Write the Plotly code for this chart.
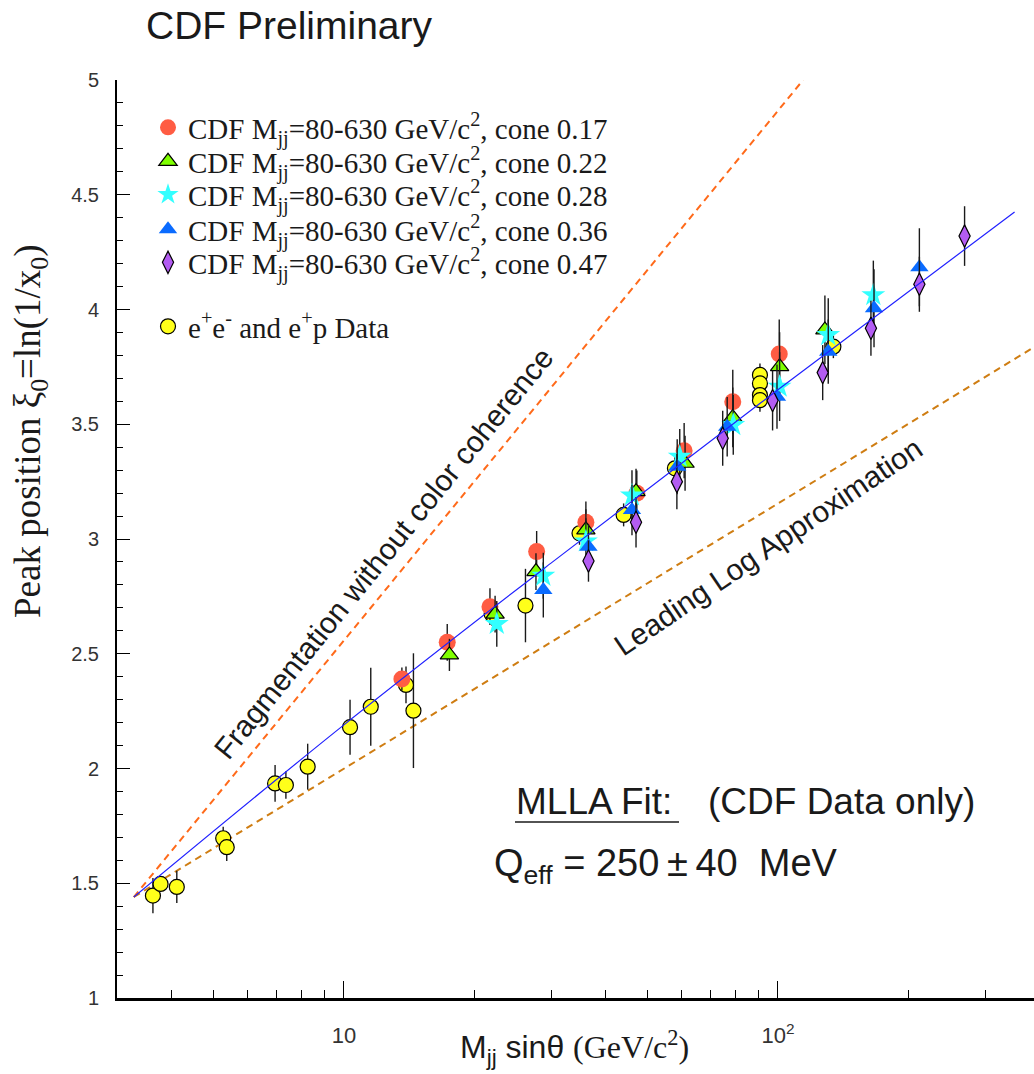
import plotly.graph_objects as go

# ---------------- data ----------------
red_x = [13.6, 17.3, 21.7, 27.8, 36.1, 47.3, 60.8, 78.7, 100.7]
red_y = [2.39, 2.55, 2.705, 2.945, 3.073, 3.199, 3.385, 3.598, 3.806]
red_e = [0.05, 0.08, 0.08, 0.09, 0.09, 0.10, 0.12, 0.14, 0.15]

green_x = [17.5, 22.3, 27.7, 36.1, 47.1, 61.1, 78.7, 100.9, 128.3]
green_y = [2.495, 2.673, 2.858, 3.04, 3.206, 3.33, 3.53, 3.751, 3.911]
green_e = [0.07, 0.08, 0.08, 0.09, 0.10, 0.12, 0.13, 0.15, 0.15]

cyan_x = [22.5, 28.8, 36.1, 46.1, 59.4, 78.9, 100.9, 130.6, 165.9]
cyan_y = [2.63, 2.84, 2.99, 3.19, 3.359, 3.497, 3.664, 3.889, 4.063]
cyan_e = [0.10, 0.10, 0.10, 0.11, 0.12, 0.13, 0.15, 0.16, 0.15]

blue_x = [28.8, 36.6, 46.1, 58.6, 76.4, 99.5, 130.6, 166.5, 211.8]
blue_y = [2.778, 2.966, 3.126, 3.315, 3.489, 3.62, 3.816, 4.005, 4.184]
blue_e = [0.12, 0.10, 0.11, 0.12, 0.13, 0.14, 0.14, 0.17, 0.17]

purple_x = [36.6, 47.1, 58.5, 74.6, 97.2, 126.8, 163.8, 211.8, 269.2]
purple_y = [2.904, 3.073, 3.25, 3.439, 3.603, 3.725, 3.918, 4.11, 4.32]
purple_e = [0.09, 0.11, 0.12, 0.12, 0.13, 0.12, 0.12, 0.12, 0.13]

ee_x = [3.63, 3.78, 4.12, 5.27, 5.37, 6.94, 7.35, 8.25, 10.33, 11.53, 13.9, 14.46,
        21.9, 26.2, 34.9, 44.1, 57.9, 90.9, 90.9, 90.9, 90.9, 134.2]
ee_y = [1.446, 1.497, 1.484, 1.696, 1.657, 1.935, 1.928, 2.008, 2.18, 2.269, 2.364, 2.252,
        2.673, 2.71, 3.025, 3.105, 3.308, 3.715, 3.678, 3.627, 3.605, 3.838]
ee_e = [0.077, 0.03, 0.07, 0.05, 0.06, 0.08, 0.06, 0.10, 0.12, 0.17, 0.08, 0.25,
        0.05, 0.16, 0.05, 0.05, 0.05, 0.05, 0.05, 0.05, 0.05, 0.05]

fit_x = [3.28, 10.0, 30.0, 100.0, 351.0]
fit_y = [1.44, 2.19, 2.895, 3.65, 4.425]

frag_x = [3.28, 114.3]
frag_y = [1.44, 5.0]

lla_x = [3.28, 389.0]
lla_y = [1.44, 3.836]

x_tickvals = [10, 100]
x_ticktext = ["10", "10<sup>2</sup>"]
x_minorvals = [4, 5, 6, 7, 8, 9, 20, 30, 40, 50, 60, 70, 80, 90, 200, 300]

cone_labels = ["0.17", "0.22", "0.28", "0.36", "0.47"]

# ---------------- figure ----------------
SERIF = "Liberation Serif, Times New Roman, serif"
SANS = "Liberation Sans, Arial, Helvetica, sans-serif"

L, R, T, B = 117, 0, 80, 76
W, H = 1034, 1074
PW, PH = W - L - R, H - T - B


def px(x):
    return (x - L) / PW


def py(y):
    return (H - B - y) / PH


fig = go.Figure()

err_style = dict(type="data", thickness=1.4, width=0, color="#1a1a1a")

# reference lines
fig.add_trace(go.Scatter(x=frag_x, y=frag_y, mode="lines", showlegend=False,
                         line=dict(color="#ff6a1a", width=2, dash="7px,5px"),
                         hoverinfo="skip"))
fig.add_trace(go.Scatter(x=lla_x, y=lla_y, mode="lines", showlegend=False,
                         line=dict(color="#cf7d12", width=2, dash="7px,5px"),
                         hoverinfo="skip"))

# e+e- data (drawn first, underneath)
fig.add_trace(go.Scatter(
    x=ee_x, y=ee_y, mode="markers", legend="legend6",
    name="e<sup>+</sup>e<sup>-</sup> and e<sup>+</sup>p Data",
    error_y=dict(array=ee_e, **err_style),
    marker=dict(symbol="circle", size=15, color="#ffff1a",
                line=dict(color="#000000", width=1.2)),
))


def lab(c):
    return "CDF M<sub>jj</sub>=80-630 GeV/c<sup>2</sup>, cone " + c


series = [
    (red_x, red_y, red_e, dict(symbol="circle", size=17, color="#ff5c43", line=dict(width=0))),
    (green_x, green_y, green_e, dict(symbol="triangle-up", size=16, color="#7fff00",
                                     line=dict(color="#000000", width=1.2))),
    (cyan_x, cyan_y, cyan_e, dict(symbol="star", size=18, color="#33ffff", line=dict(width=0))),
    (blue_x, blue_y, blue_e, dict(symbol="triangle-up", size=16, color="#0a6bff", line=dict(width=0))),
    (purple_x, purple_y, purple_e, dict(symbol="diamond-tall", size=16, color="#b35cf2",
                                        line=dict(color="#000000", width=1.2))),
]
legend_names = ["legend", "legend2", "legend3", "legend4", "legend5"]
for i, (xs, ys, es, mk) in enumerate(series):
    fig.add_trace(go.Scatter(x=xs, y=ys, mode="markers", name=lab(cone_labels[i]),
                             legend=legend_names[i],
                             error_y=dict(array=es, **err_style), marker=mk))

# MLLA fit line on top
fig.add_trace(go.Scatter(x=fit_x, y=fit_y, mode="lines", showlegend=False,
                         line=dict(color="#2020ff", width=1.2, shape="spline"),
                         hoverinfo="skip"))

annotations = [
    dict(text="CDF Preliminary", x=px(144), y=py(26), xanchor="left", yanchor="middle",
         font=dict(family=SANS, size=39, color="#1a1a1a")),
    dict(text="Fragmentation without color coherence", x=px(383), y=py(553),
         xanchor="center", yanchor="middle", textangle=-51,
         font=dict(family=SANS, size=30, color="#1a1a1a")),
    dict(text="Leading Log Approximation", x=px(768), y=py(546),
         xanchor="center", yanchor="middle", textangle=-34,
         font=dict(family=SANS, size=30, color="#1a1a1a")),
    dict(text="MLLA Fit:", x=px(514), y=py(801), xanchor="left", yanchor="middle",
         font=dict(family=SANS, size=37, color="#1a1a1a")),
    dict(text="(CDF Data only)", x=px(706), y=py(801), xanchor="left", yanchor="middle",
         font=dict(family=SANS, size=37, color="#1a1a1a")),
    dict(text="Q<sub>eff</sub> = 250\u2009\u00b1\u200940\u00a0\u00a0MeV", x=px(492), y=py(866),
         xanchor="left", yanchor="middle",
         font=dict(family=SANS, size=38, color="#1a1a1a")),
    dict(text="Peak position \u03be<sub>0</sub>=ln(1/x<sub>0</sub>)", x=px(30), y=py(431),
         xanchor="center", yanchor="middle", textangle=-90,
         font=dict(family=SERIF, size=37, color="#1a1a1a")),
    dict(text="M<sub>jj</sub> sin\u03b8 <span style=\"font-family:'Liberation Serif'\">(GeV/c<sup>2</sup>)</span>",
         x=px(574), y=py(1047), xanchor="center", yanchor="middle",
         font=dict(family=SANS, size=32, color="#1a1a1a")),
]
for a in annotations:
    a.update(xref="paper", yref="paper", showarrow=False)

row_centers = [127, 161, 194, 229, 262, 326]
legend_cfg = {}
for i, yc in enumerate(row_centers):
    key = "legend" if i == 0 else "legend%d" % (i + 1)
    legend_cfg[key] = dict(x=px(148), y=py(yc - 25), xanchor="left", yanchor="top",
                           bgcolor="rgba(0,0,0,0)", borderwidth=0,
                           font=dict(family=SERIF, size=29, color="#1a1a1a"))

fig.update_layout(
    width=W, height=H,
    margin=dict(l=L, r=R, t=T, b=B),
    paper_bgcolor="white", plot_bgcolor="white",
    showlegend=True,
    annotations=annotations,
    shapes=[dict(type="line", xref="paper", yref="paper", x0=px(515), x1=px(679),
                 y0=py(822), y1=py(822), line=dict(color="#1a1a1a", width=1.5))],
    **legend_cfg,
)

fig.update_xaxes(
    type="log", range=[0.47712, 0.47712 + PW / 434.0],
    showline=True, linecolor="black", linewidth=2.5, mirror=False,
    showgrid=False, zeroline=False,
    tickvals=x_tickvals, ticktext=x_ticktext,
    ticks="inside", ticklen=17, tickwidth=1.2, tickcolor="black",
    ticklabelstandoff=16,
    tickfont=dict(family=SANS, size=22, color="#333333"),
    minor=dict(tickvals=x_minorvals, ticks="inside", ticklen=8, tickwidth=1, tickcolor="black"),
)
fig.update_yaxes(
    range=[1, 5], showline=True, linecolor="black", linewidth=2, mirror=False,
    showgrid=False, zeroline=False,
    tick0=1, dtick=0.5,
    ticks="inside", ticklen=13, tickwidth=1.2, tickcolor="black",
    ticklabelstandoff=12,
    tickfont=dict(family=SANS, size=20, color="#333333"),
    minor=dict(dtick=0.1, ticks="inside", ticklen=6, tickwidth=1, tickcolor="black"),
)

fig.write_html("out.html")
